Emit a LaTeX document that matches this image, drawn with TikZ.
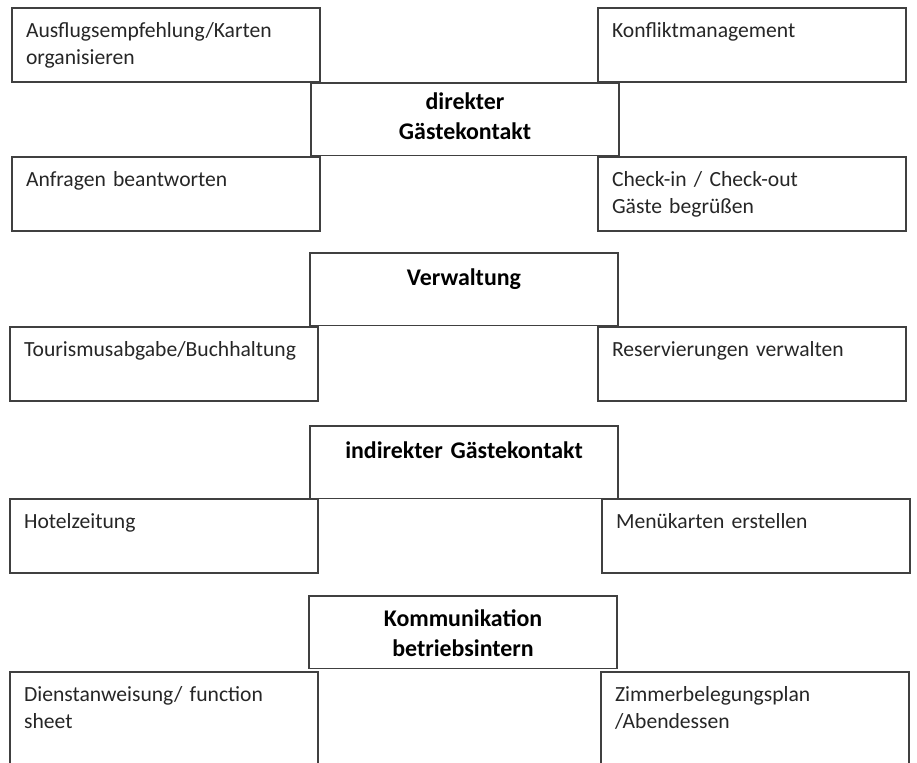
\documentclass[tikz,border=0pt]{standalone}
\usepackage{fontspec}
\setmainfont{Carlito}
\usepackage{tikz}
\definecolor{Dark}{HTML}{262626}
\definecolor{Frame}{HTML}{404040}
\tikzset{
    tasknode/.style={rectangle, draw=Frame, line width=0.6pt, anchor=north west, outer sep=0pt, inner xsep=8pt, inner ysep=0pt, text width=159.3pt, align=left, text height=16.8pt, text depth=25.3pt, text=Dark, font=\fontsize{12.3}{15.3}\selectfont},
    headnode/.style={tasknode, align=center, text height=18.3pt, text depth=23.2pt, text=black, font=\fontsize{13.6}{17}\selectfont\bfseries},
}

\begin{document}
\begin{tikzpicture}[x=0.02cm, y=-0.02cm]
    \useasboundingbox (0,0) rectangle (917,762);
    \clip (0,0) rectangle (917,762);

    % Attivita
    \foreach \n/\x/\y/\t in {
        ausflug/12/8/{Ausflugsempfehlung/Karten\\organisieren},
        konflikt/598/8/{Konfliktmanagement},
        anfragen/12/157/{Anfragen beantworten},
        checkin/598/157/{Check-in / Check-out\\Gäste begrüßen},
        tourismus/10/327/{Tourismusabgabe/Buchhaltung},
        reserv/598/327/{Reservierungen verwalten},
        zeitung/10/499/{Hotelzeitung},
        menue/602/499/{Menükarten erstellen}} {
        \node[tasknode] (\n) at (\x,\y) {\t};
    }
    \node[tasknode, text depth=45pt] (dienst) at (10,672) {Dienstanweisung/ function\\sheet};
    \node[tasknode, text depth=45pt] (zimmer) at (601,672) {Zimmerbelegungsplan\\/Abendessen};

    % Bereiche
    \node[headnode, text height=15pt, text depth=26.5pt] (direkt) at (311,83) {direkter\\Gästekontakt};
    \node[headnode] (verwaltung) at (310,253) {Verwaltung};
    \node[headnode] (indirekt) at (310,426) {indirekter Gästekontakt};
    \node[headnode, text height=17.3pt, text depth=24.2pt] (kommunikation) at (309,596) {Kommunikation\\betriebsintern};
\end{tikzpicture}
\end{document}
